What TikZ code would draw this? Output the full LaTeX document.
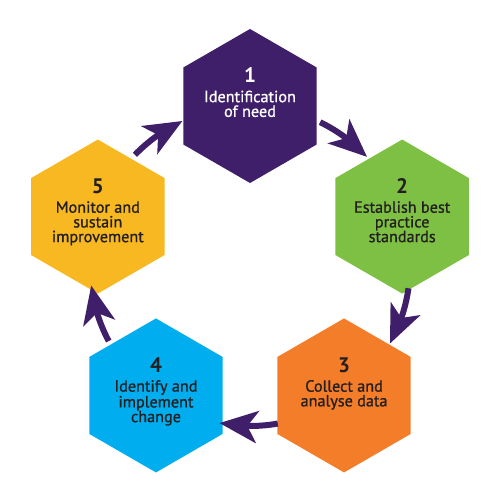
\documentclass[tikz,border=0pt]{standalone}
\usepackage{fontspec}
\setmainfont{PT Sans}
\newfontfamily\medfont{PT Sans}[FakeBold=0.9]
\usetikzlibrary{shapes.geometric,arrows.meta,bending,calc}
\definecolor{purp}{HTML}{3F1F69}
\definecolor{grn}{HTML}{7DC043}
\definecolor{orng}{HTML}{F47D2A}
\definecolor{blu}{HTML}{00AEEF}
\definecolor{ylw}{HTML}{F8B822}
\definecolor{ink}{HTML}{231F20}
\tikzset{
  hexa/.style={regular polygon, regular polygon sides=6, regular polygon rotate=30,
    minimum size=154pt, inner sep=0pt, outer sep=0pt, draw=none},
  numtxt/.style={anchor=base, inner sep=0pt, font=\fontsize{21}{21}\selectfont\bfseries},
  bodytxt/.style={anchor=north, inner sep=0pt, align=center, font=\medfont\fontsize{16.2}{14.7}\selectfont},
  cyc/.style={line width=6pt, draw=purp, -{Stealth[length=38pt,width=32pt,inset=10pt,flex]}}
}
\begin{document}
\begin{tikzpicture}[x=1pt,y=1pt]
\useasboundingbox (0,0) rectangle (500,500);
\coordinate (C) at (250,234);
% hexagons
\node[hexa, fill=purp] (h1) at ($(C)+(90:160)$) {};
\node[hexa, fill=grn]  (h2) at ($(C)+(18:160)$) {};
\node[hexa, fill=orng] (h3) at ($(C)+(-54:160)$) {};
\node[hexa, fill=blu]  (h4) at ($(C)+(-126:160)$) {};
\node[hexa, fill=ylw]  (h5) at ($(C)+(162:160)$) {};
% numbers
\node[numtxt, text=white] (n1) at ($(h1.center)+(0,23)$) {1};
\node[numtxt, text=ink] (n2) at ($(h2.center)+(0,23)$) {2};
\node[numtxt, text=ink] (n3) at ($(h3.center)+(0,23)$) {3};
\node[numtxt, text=ink] (n4) at ($(h4.center)+(0,23)$) {4};
\node[numtxt, text=ink] (n5) at ($(h5.center)+(0,23)$) {5};
% texts
\node[bodytxt, text=white] (t1) at ($(h1.center)+(0,15.5)$) {Identification\\of need};
\node[bodytxt, text=ink] (t2) at ($(h2.center)+(0,15.5)$) {Establish best\\practice\\standards};
\node[bodytxt, text=ink] (t3) at ($(h3.center)+(0,15.5)$) {Collect and\\analyse data};
\node[bodytxt, text=ink] (t4) at ($(h4.center)+(0,15.5)$) {Identify and\\implement\\change};
\node[bodytxt, text=ink] (t5) at ($(h5.center)+(0,15.5)$) {Monitor and\\sustain\\improvement};
% arrow end points
\coordinate (s12) at ($(C)+(64:160)$);
\coordinate (s23) at ($(C)+(-8:160)$);
\coordinate (s34) at ($(C)+(-80:160)$);
\coordinate (s45) at ($(C)+(-152:160)$);
\coordinate (s51) at ($(C)+(136:160)$);
\draw[cyc] (s12) arc[start angle=64, end angle=43, radius=160];
\draw[cyc] (s23) arc[start angle=-8, end angle=-29, radius=160];
\draw[cyc] (s34) arc[start angle=-80, end angle=-101, radius=160];
\draw[cyc] (s45) arc[start angle=-152, end angle=-173, radius=160];
\draw[cyc] (s51) arc[start angle=136, end angle=115, radius=160];
\end{tikzpicture}
\end{document}
